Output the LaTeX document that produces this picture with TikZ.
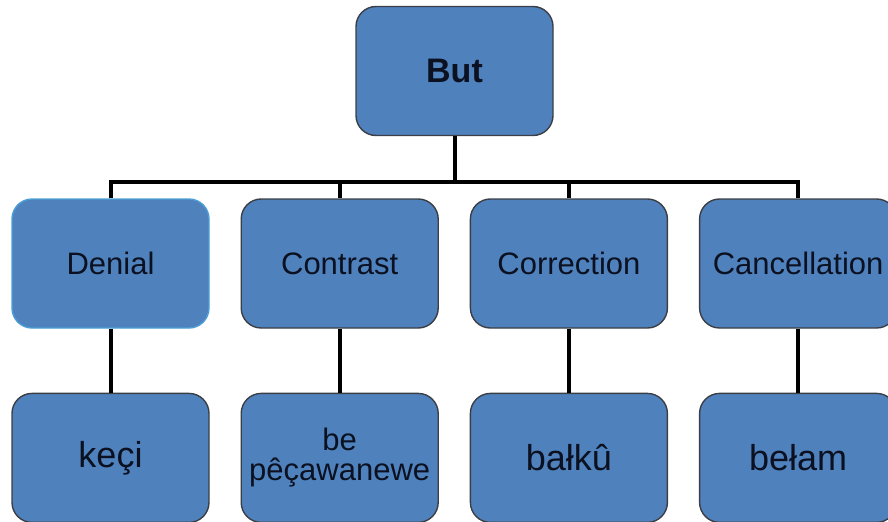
\documentclass[tikz,border=0pt]{standalone}
\usepackage{fontspec}
\setmainfont{Liberation Sans}
\usetikzlibrary{positioning}
\definecolor{boxblue}{HTML}{4F81BD}
\definecolor{boxline}{HTML}{3B3F45}
\definecolor{denline}{HTML}{4C9FD6}
\definecolor{txt}{HTML}{0B1120}

\begin{document}
\begin{tikzpicture}[
  x=1pt, y=1pt,
  node distance=15.4pt,
  every node/.style={rectangle,rounded corners=10pt,draw=boxline,line width=0.7pt,
    fill=boxblue,text=txt,minimum width=98.5pt,minimum height=64.5pt,
    inner sep=0pt,align=center,font=\fontsize{15.5}{17}\selectfont},
  word/.style={font=\fontsize{18}{20}\selectfont},
  link/.style={line width=2pt}
]
\clip (0,0) rectangle (444,260.5);

\node (but) at (227.25,225) [font=\bfseries\fontsize{17}{20}\selectfont] {But};

% meanings
\node (den) at (55.25,128.75) [draw=denline] {Denial};
\node (con) [right=of den] {Contrast};
\node (cor) [right=of con] {Correction};
\node (can) [right=of cor] {Cancellation};

% words
\node (keci)  [below=32pt of den, word] {keçi};
\node (pecaw) [below=32pt of con, font=\fontsize{15.5}{15}\selectfont] {be\\pêçawanewe};
\node (balku) [below=32pt of cor, word] {bałkû};
\node (belam) [below=32pt of can, word] {bełam};

\coordinate (bus) at (227.25,169.5);

\draw[link] (but) -- (bus);
\draw[link] (den.north) |- (bus) -| (can.north);
\draw[link] (con.north) -- (con.north |- bus);
\draw[link] (cor.north) -- (cor.north |- bus);

\draw[link] (den) -- (keci);
\draw[link] (con) -- (pecaw);
\draw[link] (cor) -- (balku);
\draw[link] (can) -- (belam);
\end{tikzpicture}
\end{document}
